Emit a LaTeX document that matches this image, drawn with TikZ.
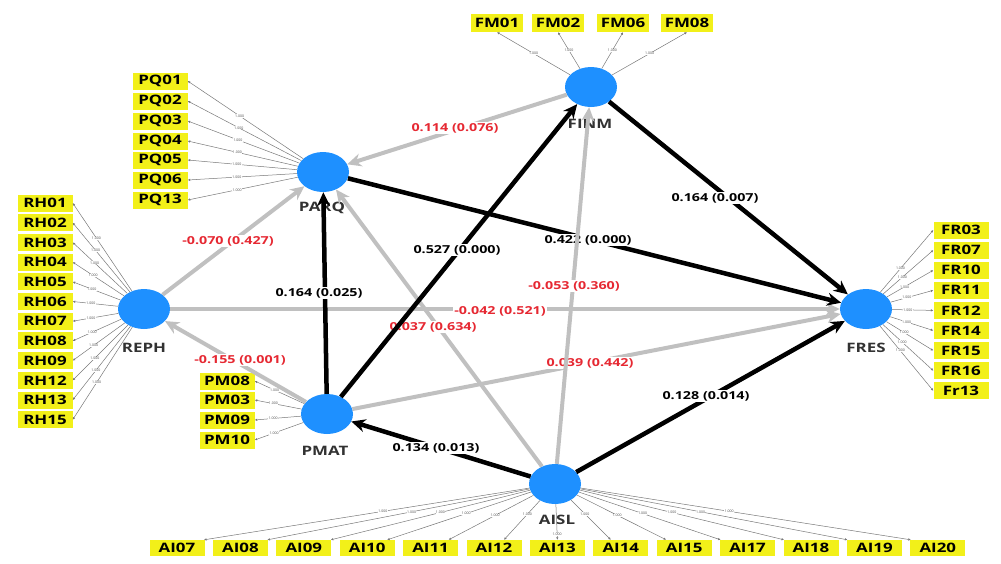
\documentclass[tikz,border=0pt]{standalone}
\usepackage{fontspec}
\setmainfont{Open Sans}
\newfontfamily\osb{Open Sans}[FakeStretch=1.3]
\usetikzlibrary{shapes.geometric,arrows.meta,calc}
\definecolor{lvblue}{RGB}{30,144,255}
\definecolor{indyel}{RGB}{242,240,25}
\definecolor{pathgray}{RGB}{192,192,192}
\definecolor{pathred}{RGB}{230,40,50}
\definecolor{lvtext}{RGB}{50,50,50}
\definecolor{loadgray}{RGB}{120,120,120}
\tikzset{
 lv/.style={ellipse, fill=lvblue, minimum width=52pt, minimum height=40pt, inner sep=0pt},
 lvlab/.style={font=\osb\bfseries\fontsize{13}{13}\selectfont, text=lvtext, inner sep=1pt},
 ind/.style={fill=indyel, minimum width=55pt, minimum height=17pt, inner sep=0pt, font=\osb\bfseries\fontsize{13}{13}\selectfont},
 indh/.style={ind, minimum width=52pt, minimum height=18pt},
 sig/.style={line width=4.5pt, black, -{Stealth[length=14pt,width=13pt]}},
 nsig/.style={line width=4pt, pathgray, -{Stealth[length=14pt,width=13pt]}},
 plab/.style={fill=white, inner sep=1pt, font=\osb\bfseries\fontsize{11}{11}\selectfont},
 redlab/.style={plab, text=pathred},
 blklab/.style={plab, text=black},
 load/.style={draw=loadgray, line width=0.5pt, -{Latex[length=2.5pt,width=2.5pt]}},
 loadlab/.style={fill=white, inner sep=0.3pt, font=\fontsize{3.5}{3.5}\selectfont, text=black!70},
}
\begin{document}
\begin{tikzpicture}[x=1pt,y=-1pt]
\useasboundingbox (0,0) rectangle (1001,563);
% latent variables
\node[lv] (FINM) at (591,87) {};
\node[lv] (PARQ) at (323,172) {};
\node[lv] (REPH) at (144,309) {};
\node[lv] (FRES) at (866,309) {};
\node[lv] (PMAT) at (327,414) {};
\node[lv] (AISL) at (555,484) {};
\node[lvlab] (FINMl) at (590,124) {FINM};
\node[lvlab] (PARQl) at (322,208) {PARQ};
\node[lvlab] (REPHl) at (144,348) {REPH};
\node[lvlab] (FRESl) at (866,348) {FRES};
\node[lvlab] (PMATl) at (325,451) {PMAT};
\node[lvlab] (AISLl) at (557,520) {AISL};
% indicators FINM
\foreach \n/\x in {FM01/497,FM02/558,FM06/623,FM08/687}{
  \node[indh] (\n) at (\x,23) {\n};
  \draw[load] (FINM) -- node[pos=0.5, loadlab]{1.000} (\n.south);
}
% indicators PARQ
\foreach \n/\y in {PQ01/81,PQ02/101,PQ03/121,PQ04/141,PQ05/160,PQ06/180,PQ13/200}{
  \node[ind] (\n) at (160,\y) {\n};
  \draw[load] (PARQ) -- node[pos=0.55, loadlab]{1.000} (\n.east);
}
% indicators REPH
\foreach \n [count=\i from 0] in {RH01,RH02,RH03,RH04,RH05,RH06,RH07,RH08,RH09,RH12,RH13,RH15}{
  \node[ind] (\n) at (45,{203+19.7*\i}) {\n};
  \draw[load] (REPH) -- node[pos=0.6, loadlab]{1.000} (\n.east);
}
% indicators FRES
\foreach \n/\t [count=\i from 0] in {FR03/FR03,FR07/FR07,FR10/FR10,FR11/FR11,FR12/FR12,FR14/FR14,FR15/FR15,FR16/FR16,Fr13/Fr13}{
  \node[ind] (\n) at (961,{230+20.1*\i}) {\t};
  \draw[load] (FRES) -- node[pos=0.38, loadlab]{1.000} (\n.west);
}
% indicators PMAT
\foreach \n/\y in {PM08/381,PM03/400,PM09/420,PM10/440}{
  \node[ind] (\n) at (227,\y) {\n};
  \draw[load] (PMAT) -- node[pos=0.6, loadlab]{1.000} (\n.east);
}
% indicators AISL
\foreach \n/\dx/\p [count=\i from 0] in {AI07/27/0.45,AI08/27/0.45,AI09/27/0.45,AI10/20/0.45,AI11/18/0.45,AI12/10/0.35,AI13/0/0.85,AI14/-10/0.35,AI15/-18/0.45,AI17/-27/0.45,AI18/-27/0.45,AI19/-27/0.45,AI20/-27/0.45}{
  \node[ind, minimum height=16pt] (\n) at ({177+63.4*\i},548) {\n};
  \draw[load] (AISL) -- node[pos=\p, loadlab]{1.000} ($(\n.north)+(\dx,0)$);
}
% structural paths
\draw[nsig] (FINM) -- (PARQ);
\node[redlab] (l1) at (455,128) {0.114 (0.076)};
\draw[nsig] (REPH) -- (PARQ);
\node[redlab] (l2) at (228,241) {-0.070 (0.427)};
\draw[nsig] (REPH) -- (FRES);
\node[redlab] (l3) at (500,311) {-0.042 (0.521)};
\draw[nsig] (PMAT) -- (REPH);
\node[redlab] (l4) at (240,360) {-0.155 (0.001)};
\draw[nsig] (AISL) -- (PARQ);
\node[redlab] (l5) at (433,327) {0.037 (0.634)};
\draw[nsig] (PMAT) -- (FRES);
\node[redlab] (l6) at (590,363) {0.039 (0.442)};
\draw[sig] (PARQ) -- (FRES);
\node[blklab] (l7) at (588,240) {0.422 (0.000)};
\draw[sig] (FINM) -- (FRES);
\node[blklab] (l8) at (715,198) {0.164 (0.007)};
\draw[sig] (PMAT) -- (PARQ);
\node[blklab] (l9) at (319,293) {0.164 (0.025)};
\draw[sig] (PMAT) -- (FINM);
\node[blklab] (l10) at (457,250) {0.527 (0.000)};
\draw[nsig] (AISL) -- (FINM);
\node[redlab] (l11) at (574,286) {-0.053 (0.360)};
\draw[sig] (AISL) -- (PMAT);
\node[blklab] (l12) at (436,448) {0.134 (0.013)};
\draw[sig] (AISL) -- (FRES);
\node[blklab] (l13) at (706,396) {0.128 (0.014)};
\end{tikzpicture}
\end{document}
